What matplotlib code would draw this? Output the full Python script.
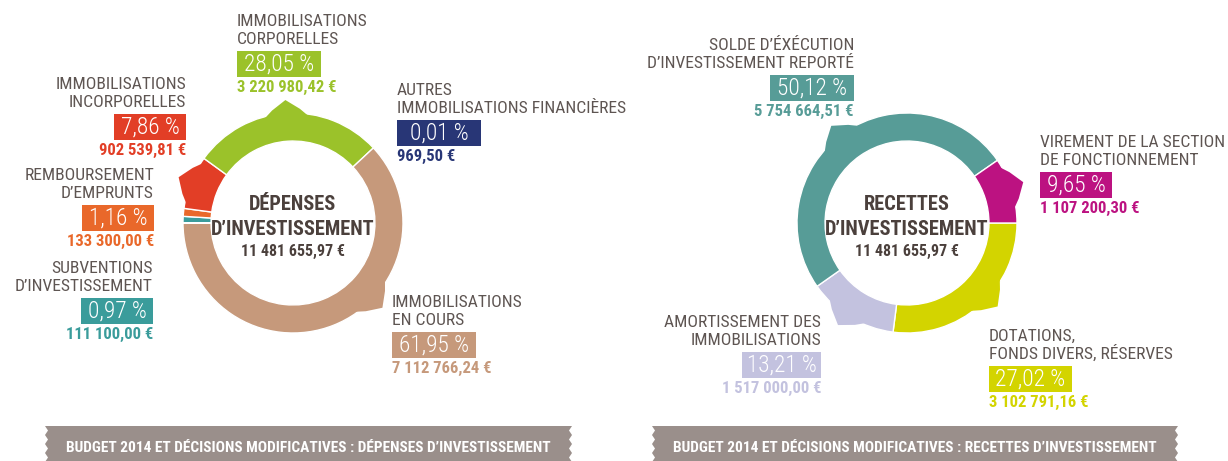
import matplotlib
matplotlib.use("Agg")
import matplotlib.pyplot as plt
from matplotlib import font_manager
from matplotlib.patches import Polygon, Rectangle
import numpy as np

# ---- données : dépenses d'investissement ----
dep_labels = ["SUBVENTIONS\nD’INVESTISSEMENT", "REMBOURSEMENT\nD’EMPRUNTS",
              "IMMOBILISATIONS\nINCORPORELLES", "IMMOBILISATIONS\nCORPORELLES",
              "IMMOBILISATIONS\nEN COURS", "AUTRES\nIMMOBILISATIONS FINANCIÈRES"]
dep_values = [111100.00, 133300.00, 902539.81, 3220980.42, 7112766.24, 969.50]
dep_pct = ["0,97 %", "1,16 %", "7,86 %", "28,05 %", "61,95 %", "0,01 %"]

# ---- données : recettes d'investissement ----
rec_labels = ["DOTATIONS,\nFONDS DIVERS, RÉSERVES", "AMORTISSEMENT DES\nIMMOBILISATIONS",
              "SOLDE D’ÉXÉCUTION\nD’INVESTISSEMENT REPORTÉ", "VIREMENT DE LA SECTION\nDE FONCTIONNEMENT"]
rec_values = [3102791.16, 1517000.00, 5754664.51, 1107200.30]
rec_pct = ["27,02 %", "13,21 %", "50,12 %", "9,65 %"]

# ---- style ----
dep_colors = ['#3a9c9b', '#e9682a', '#e23e26', '#9bc22a', '#c6997b', '#283676']
rec_colors = ['#d3d400', '#c3c2df', '#579c97', '#bc1281']
GREY = '#5e5552'
DARK = '#4b403c'
BANNER = '#9a8f8b'

# label placement (pixels): x anchor, alignment, first line baseline, box width
dep_pos = [(153, 'right', 273, 72), (154, 'right', 180, 72), (186, 'right', 89, 72),
           (237, 'left', 26, 84), (392, 'left', 307, 84), (397, 'left', 95, 84)]
rec_pos = [(989, 'left', 341, 83), (821, 'right', 327, 79),
           (854, 'right', 50, 84), (1040, 'left', 147, 72)]
# pointer offset from wedge middle (None = no pointer)
dep_bump = [None, None, 0, 0, 25, None]
rec_bump = [6, -3, 3, 2]

names = {f.name for f in font_manager.fontManager.ttflist}
FONT = next((f for f in ['Roboto Condensed', 'Liberation Sans Narrow'] if f in names), 'Roboto')
k = 1.2 if FONT != 'Roboto' else 1.0
plt.rcParams['font.family'] = [FONT, 'DejaVu Sans']

W, H = 1228, 461
fig = plt.figure(figsize=(W / 100, H / 100), dpi=100)


def euros(v):
    return f"{v:,.2f}".replace(",", " ").replace(".", ",") + " €"


def donut(cx, cy, values, colors, start, bumps, R=110, half=150):
    ax = fig.add_axes([(cx - half) / W, (H - cy - half) / H, 2 * half / W, 2 * half / H])
    wedges, _ = ax.pie(values, colors=colors, startangle=start, counterclock=False,
                       radius=1, wedgeprops=dict(width=0.255, edgecolor='white', linewidth=1))
    for w, off in zip(wedges, bumps):
        if off is None:
            continue
        ang = (w.theta1 + w.theta2) / 2 + off
        a = np.radians([ang - 13, ang - 7, ang, ang + 7, ang + 13])
        r = np.array([0.97, 1.04, 1.12, 1.04, 0.97])
        ax.add_patch(Polygon(np.c_[np.cos(a) * r, np.sin(a) * r], closed=True,
                             fc=w.get_facecolor(), ec='none', zorder=3))
    lim = half / R
    ax.set_xlim(-lim, lim)
    ax.set_ylim(-lim, lim)
    ax.set_aspect('equal')
    ax.axis('off')


donut(293, 223, dep_values, dep_colors, 180, dep_bump)
donut(907, 223, rec_values, rec_colors, 0, rec_bump)

ov = fig.add_axes([0, 0, 1, 1])
ov.set_xlim(0, W)
ov.set_ylim(H, 0)
ov.axis('off')


def labels(texts, values, pcts, colors, pos):
    for t, v, p, c, (x, ha, y, bw) in zip(texts, values, pcts, colors, pos):
        for i, line in enumerate(t.split("\n")):
            ov.text(x, y + 18 * i, line, ha=ha, va='baseline', color=GREY, fontsize=10.5 * k)
        bx = x if ha == 'left' else x - bw
        ov.add_patch(Rectangle((bx, y + 25), bw, 26, fc=c, ec='none'))
        ov.text(bx + bw / 2, y + 38.5, p, ha='center', va='center', color='white',
                fontsize=14 * k, fontweight='light')
        ov.text(x, y + 66, euros(v), ha=ha, va='baseline', color=c,
                fontsize=10 * k, fontweight='bold')


labels(dep_labels, dep_values, dep_pct, dep_colors, dep_pos)
labels(rec_labels, rec_values, rec_pct, rec_colors, rec_pos)


def centre(cx, title, total):
    ov.text(cx, 210, title, ha='center', va='baseline', color=DARK, fontsize=12.2 * k, fontweight='bold')
    ov.text(cx, 235, "D’INVESTISSEMENT", ha='center', va='baseline', color=DARK,
            fontsize=12.2 * k, fontweight='bold')
    ov.text(cx, 256, euros(total), ha='center', va='baseline', color=DARK,
            fontsize=9.6 * k, fontweight='bold')


centre(293, "DÉPENSES", sum(dep_values))
centre(907, "RECETTES", sum(rec_values))


def banner(x0, x1, text, y0=426, y1=462):
    ys = np.linspace(y0, y1, 9)
    zig = np.where(np.arange(9) % 2 == 0, 0, 3)
    pts = [(x0, y0)] + [(x1 - z, yy) for z, yy in zip(zig, ys)] + \
          [(x0 + z, yy) for z, yy in zip(zig[::-1], ys[::-1])]
    ov.add_patch(Polygon(pts, closed=True, fc=BANNER, ec='none'))
    ov.text((x0 + x1) / 2, 452, text, ha='center', va='baseline', color='white',
            fontsize=9.2 * k, fontweight='bold')


banner(45, 572, "BUDGET 2014 ET DÉCISIONS MODIFICATIVES : DÉPENSES D’INVESTISSEMENT")
banner(652, 1178, "BUDGET 2014 ET DÉCISIONS MODIFICATIVES : RECETTES D’INVESTISSEMENT")

fig.savefig("out.png", dpi=100)
